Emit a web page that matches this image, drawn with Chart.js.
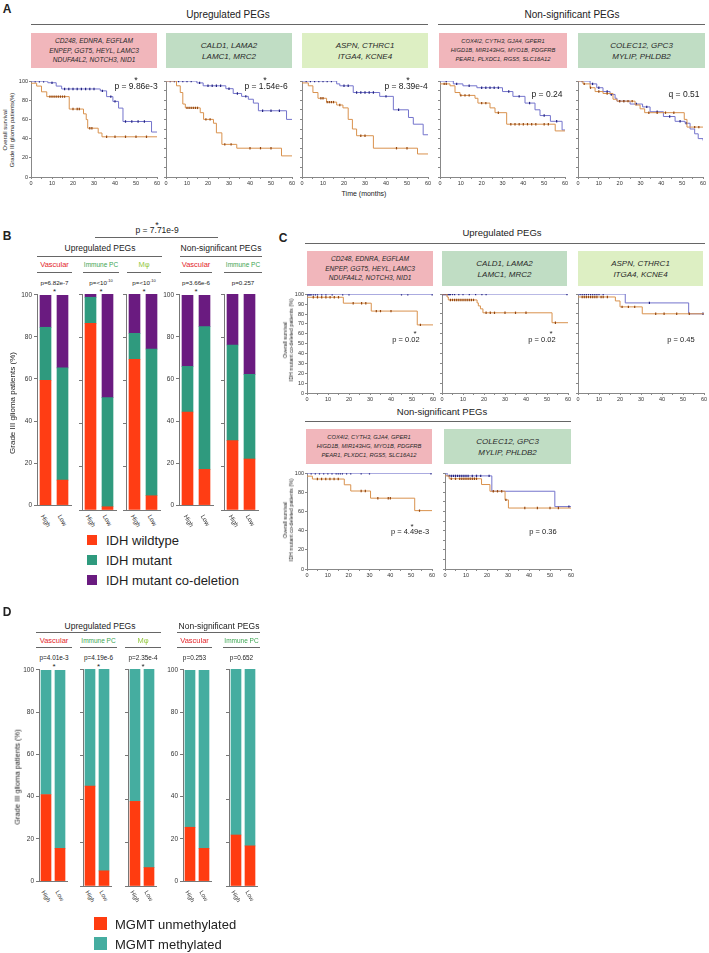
<!DOCTYPE html>
<html>
<head>
<meta charset="utf-8">
<script src="https://cdn.jsdelivr.net/npm/chart.js@4.4.0/dist/chart.umd.min.js"></script>
<style>
body { margin: 0; background: #fff; font-family: "Liberation Sans", Arial, sans-serif; color: #222; }
#fig { position: relative; width: 709px; height: 953px; overflow: hidden; }
.t { position: absolute; white-space: nowrap; transform: translate(-50%, -50%); line-height: 1; color: #222; }
.rot { position: absolute; white-space: nowrap; text-align: center; line-height: 1.15; color: #222; transform: translate(-50%, -50%) rotate(-90deg); }
.rl { position: absolute; white-space: nowrap; line-height: 1; transform-origin: 0 50%; transform: rotate(60deg); color: #333; }
.hl { position: absolute; height: 0; border-top: 1.3px solid #666; }
.box { position: absolute; display: flex; align-items: center; justify-content: center; text-align: center; font-style: italic; color: #2a2a2a; }
.sq { position: absolute; }
canvas { position: absolute; }
</style>
</head>
<body>
<div id="fig"></div>
<script>
// ---- Kaplan-Meier curves : [month, survival %] steps, censor marks in months ----
// blue = low score, orange = high score
// panel A, grade III glioma
var aVascLow = [[0,100],[8,98.5],[12,95],[14.6,92],[33,90],[36,84],[39,79],[41.7,72],[43.8,58],[57.4,47],[60,47]];
var aVascLowCens = [2,4,6,10,16,18,20,22,24,26,28,30,34,38,40,45,48,51,54];
var aVascHigh = [[0,98],[2.7,95],[5,89],[7.5,84],[18.2,71],[25,66],[26.3,60],[27,51],[32,46],[33.8,42],[60,42]];
var aVascHighCens = [9,10,11,12,13,14,15,16,20,22,23,28,29,36,40,45,50,55];

var aImmLow = [[0,100],[14.7,98],[17.7,95],[28.5,92],[32,87],[36,84],[39.2,81],[41.6,77],[44,69],[57.4,60],[60,60]];
var aImmLowCens = [2,4,6,8,10,12,16,20,22,24,26,30,34,38,46,50,54];
var aImmHigh = [[0,100],[5,95],[6.8,88],[8,76],[9.2,72],[16.3,67],[17.9,60],[22.6,56],[24,46],[26.6,34],[33.7,30],[55,22],[60,22]];
var aImmHighCens = [10,11,12,13,14,15,19,21,28,31,40,45,50];

var aMacLow = [[0,100],[16.5,97],[18,95],[24.4,88],[37,84],[43.5,70],[50.7,62],[53,55],[57.7,44],[60,44]];
var aMacLowCens = [2,4,6,8,10,12,14,20,22,26,28,30,32,34,40,46];
var aMacHigh = [[0,98],[3,95],[5.2,88],[7.6,82],[11.7,78],[16.5,75],[19.5,72],[22,60],[24,50],[26,43],[34,30],[55,24],[60,24]];
var aMacHighCens = [9,10,12,13,14,15,18,28,30,45,50];

var aNsVascLow = [[0,100],[6.4,97],[11,95],[17.7,93],[30,89],[35,84],[40.8,77],[45.6,70],[48,64],[53,58],[58.6,49],[60,49]];
var aNsVascLowCens = [3,8,14,20,22,24,26,28,33,38,43,50,56];
var aNsVascHigh = [[0,97],[4.8,95],[7.2,88],[9.6,85],[16.8,82],[18.2,77],[24,72],[26.4,67],[32,55],[55.3,48],[60,48]];
var aNsVascHighCens = [2,3,10,12,14,20,22,28,34,36,38,40,42,44,46,50,52];

var aNsImmLow = [[0,100],[5.8,97],[9,93],[12,89],[15.4,86],[17.8,82],[18.7,79],[25,76],[31,73],[34.6,68],[41,63],[46.6,58],[51.4,56],[53.8,50],[56,45],[57.7,40],[60,38]];
var aNsImmLowCens = [2,7,10,14,16,20,22,28,33,38,44,49,52];
var aNsImmHigh = [[0,100],[2.4,97],[5.8,93],[8.2,89],[12,87],[16.8,81],[18.7,79],[27.4,75],[29.8,71],[32,67],[51,60],[52.3,52],[60,52]];
var aNsImmHighCens = [3,6,10,14,20,22,24,26,34,38,42,46,56,58];

// panel C, IDH mutant co-deleted
var cVascLow = [[0,100],[60,100]];
var cVascLowCens = [0.5,1,1.5,2,3,4,5,7,9,12,17,20,45,48,59.6];
var cVascHigh = [[0,97],[17.3,91],[30.6,83],[52.5,69],[60,69]];
var cVascHighCens = [3,5,7,9,11,13,15,22,26,28,33,35,40,54];

var cImmLow = [[0,100],[60,100]];
var cImmLowCens = [0.5,1,1.5,2,2.5,3,3.5,4,5,6,8,10,13,16,19,21,59.5];
var cImmHigh = [[0,100],[2.4,97],[3,94],[16.7,91],[17.3,88],[18.3,85],[19.5,81],[52.4,71],[60,71]];
var cImmHighCens = [4,5,6,7,8,9,10,11,12,13,14,15,21,23,25,30,35,40,54];

var cMacLow = [[0,100],[22.5,91],[52.7,80],[60,80]];
var cMacLowCens = [1,2,3,4,5,6,7,8,9,10,12,34,59.5];
var cMacHigh = [[0,97],[17.8,93],[20,87],[30.6,80],[60,80]];
var cMacHighCens = [2,3,4,5,6,7,8,9,11,12,14,21,24,27,37,41,47,53];

var cNsVascLow = [[0,100],[60,100]];
var cNsVascLowCens = [2,4,6,8,10,12,14,15,16,17,19,21,26,30,59.5];
var cNsVascHigh = [[0,97],[2.6,94],[17.9,88],[21,81.5],[30.5,74],[51.7,61],[60,61]];
var cNsVascHighCens = [5,7,9,11,13,15,26,28,34,39,40,54];

var cNsImmLow = [[0,100],[1,97],[22.3,81],[52.3,65],[60,65]];
var cNsImmLowCens = [2,3,4,5,6,7,8,9,10,11,13,15,17,21,59];
var cNsImmHigh = [[0,97],[2,94],[17.4,88],[21.4,81],[28.6,72],[30.2,63.5],[60,63.5]];
var cNsImmHighCens = [3,5,7,8,9,10,11,12,13,14,15,23,25,27,29,38,44,50,54];

// ---- stacked bars (% of grade III patients), [High, Low] per group ----
var armLabels = ['High', 'Low'];
var idhWildtype = [[59.4,11.9],[86.4,1.5],[69.8,6.6],[44.3,17],[32.1,23.6]];
var idhMutant   = [[25.2,53.4],[12.1,50.5],[12,67.9],[21.7,67.9],[44.3,39.2]];
var idhCodel    = [[15.4,34.7],[1.5,48],[18.2,25.5],[34,15.1],[23.6,37.2]];
var mgmtUnmeth  = [[41,15.5],[46,7],[39,8.5],[25.5,15.5],[23.5,18.5]];
var mgmtMeth    = [[59,84.5],[54,93],[61,91.5],[74.5,84.5],[76.5,81.5]];

var groupNames = ['Vascular', 'Immune PC', 'M\u03c6', 'Vascular', 'Immune PC'];
var groupColors = ['#e3262b', '#3ca552', '#93c83e', '#e3262b', '#3ca552'];
var pB = ['p=6.82e-7', 'p=&lt;10<sup style="font-size:4px">-10</sup>', 'p=&lt;10<sup style="font-size:4px">-10</sup>', 'p=3.66e-6', 'p=0.257'];
var pD = ['p=4.01e-3', 'p=4.19e-6', 'p=2.35e-4', 'p=0.253', 'p=0.652'];

var fig = document.getElementById('fig');

function text(str, x, y, size, extra) {
    var d = document.createElement('div');
    d.className = 't';
    d.innerHTML = str;
    d.style.left = x + 'px';
    d.style.top = y + 'px';
    d.style.fontSize = size + 'px';
    if (extra) Object.assign(d.style, extra);
    fig.appendChild(d);
    return d;
}

function vtext(str, x, y, size) {
    var d = text(str, x, y, size);
    d.className = 'rot';
    return d;
}

function hline(x1, x2, y) {
    var d = document.createElement('div');
    d.className = 'hl';
    d.style.left = x1 + 'px';
    d.style.top = y + 'px';
    d.style.width = (x2 - x1) + 'px';
    fig.appendChild(d);
}

function box(x1, y1, x2, y2, color, str, size, lh) {
    var d = document.createElement('div');
    d.className = 'box';
    d.style.left = x1 + 'px';
    d.style.top = y1 + 'px';
    d.style.width = (x2 - x1) + 'px';
    d.style.height = (y2 - y1) + 'px';
    d.style.background = color;
    d.style.fontSize = size + 'px';
    d.style.lineHeight = lh + 'px';
    d.innerHTML = str;
    fig.appendChild(d);
}

function canvasAt(left, top, w, h) {
    var c = document.createElement('canvas');
    c.width = Math.round(w);
    c.height = Math.round(h);
    c.style.left = left + 'px';
    c.style.top = top + 'px';
    fig.appendChild(c);
    return c;
}

// put censor marks on the step curve
function kmPoints(steps, cens) {
    var pts = steps.map(function(p) { return { x: p[0], y: p[1], c: 0 }; });
    cens.forEach(function(t) {
        var lvl = steps[0][1];
        steps.forEach(function(p) { if (p[0] <= t) lvl = p[1]; });
        pts.push({ x: t, y: lvl, c: 1 });
    });
    pts.sort(function(a, b) { return a.x - b.x || a.c - b.c; });
    return pts;
}

function curve(steps, cens, line, mark) {
    return {
        data: kmPoints(steps, cens),
        stepped: true,
        borderColor: line,
        borderWidth: 1,
        fill: false,
        pointStyle: 'line',
        rotation: 90,
        pointBorderColor: mark,
        pointBorderWidth: 1.2,
        pointRadius: function(ctx) { return ctx.raw && ctx.raw.c ? 1.2 : 0; }
    };
}

var BLUE = '#7474cc', BLUE_MK = '#23237f', ORANGE = '#d9924e', ORANGE_MK = '#94460f';

function km(x0, x60, y100, y0, low, lowCens, high, highCens, showY) {
    var yw = showY ? 14 : 3, xh = 9, pt = 4, pr = 6;
    var cv = canvasAt(x0 - yw, y100 - pt, (x60 - x0) + yw + pr, (y0 - y100) + pt + xh);
    new Chart(cv, {
        type: 'line',
        data: { datasets: [curve(high, highCens, ORANGE, ORANGE_MK), curve(low, lowCens, BLUE, BLUE_MK)] },
        options: {
            responsive: false,
            animation: false,
            events: [],
            layout: { padding: { top: pt, right: pr } },
            plugins: { legend: { display: false }, tooltip: { enabled: false } },
            scales: {
                x: {
                    type: 'linear', min: 0, max: 60,
                    ticks: {
                        stepSize: 5, autoSkip: false, maxRotation: 0, padding: 1, color: '#333',
                        font: { size: 5.5 },
                        callback: function(v) { return v % 10 === 0 ? v : ''; }
                    },
                    grid: { drawOnChartArea: false, tickLength: 2, color: '#888' },
                    border: { color: '#888' },
                    afterFit: function(s) { s.height = xh; }
                },
                y: {
                    min: 0, max: 100,
                    ticks: { stepSize: 10, display: showY, padding: 1, color: '#333', font: { size: 5.5 } },
                    grid: { drawOnChartArea: false, tickLength: 2, color: '#888' },
                    border: { color: '#888' },
                    afterFit: function(s) { s.width = yw; }
                }
            }
        }
    });
}

function bars(axisX, yTop, yBot, w, barW, stacks, colors, showY, fs, labFs) {
    var yw = showY ? 22 : 4, pt = 5;
    var left = axisX - yw;
    var cv = canvasAt(left, yTop - pt, w + yw + 2, (yBot - yTop) + pt + 1);
    var ch = new Chart(cv, {
        type: 'bar',
        data: {
            labels: armLabels,
            datasets: stacks.map(function(s, i) {
                return { data: s, backgroundColor: colors[i], barThickness: barW, borderWidth: 0 };
            })
        },
        options: {
            responsive: false,
            animation: false,
            events: [],
            layout: { padding: { top: pt, right: 2 } },
            plugins: { legend: { display: false }, tooltip: { enabled: false } },
            scales: {
                x: {
                    stacked: true,
                    ticks: { display: false },
                    grid: { display: false },
                    border: { color: '#777' },
                    afterFit: function(s) { s.height = 1; }
                },
                y: {
                    stacked: true, min: 0, max: 100,
                    ticks: { stepSize: 20, display: showY, color: '#333', font: { size: fs }, padding: 2 },
                    grid: { drawOnChartArea: false, tickLength: 3, color: '#777' },
                    border: { color: '#777' },
                    afterFit: function(s) { s.width = yw; }
                }
            }
        }
    });
    armLabels.forEach(function(lab, i) {
        var px = left + ch.scales.x.getPixelForValue(i);
        var d = document.createElement('div');
        d.className = 'rl';
        d.textContent = lab;
        d.style.left = (px - 3) + 'px';
        d.style.top = (yBot + 2) + 'px';
        d.style.fontSize = labFs + 'px';
        fig.appendChild(d);
    });
}

var PINK = '#f1b6bb', GREEN = '#c0ddc4', LIME = '#ddefc3';
var geneVasc = 'CD248, EDNRA, EGFLAM<br>ENPEP, GGT5, HEYL, LAMC3<br>NDUFA4L2, NOTCH3, NID1';
var geneImm = 'CALD1, LAMA2<br>LAMC1, MRC2';
var geneMac = 'ASPN, CTHRC1<br>ITGA4, KCNE4';
var geneNsVasc = 'COX4I2, CYTH3, GJA4, GPER1<br>HIGD1B, MIR143HG, MYO1B, PDGFRB<br>PEAR1, PLXDC1, RGS5, SLC16A12';
var geneNsImm = 'COLEC12, GPC3<br>MYLIP, PHLDB2';
var bold = { fontWeight: 'bold' };

// ================= A =================
text('A', 7, 9, 12, bold);
text('Upregulated PEGs', 228, 15, 10);
hline(31, 428, 24);
text('Non-significant PEGs', 572, 15, 10);
hline(438, 705, 24);
box(31, 33, 157, 68, PINK, geneVasc, 6.6, 9.5);
box(166, 33, 292, 68, GREEN, geneImm, 8, 11);
box(302, 33, 428, 68, LIME, geneMac, 8, 11);
box(439, 33, 567, 68, PINK, geneNsVasc, 5.8, 9);
box(578, 33, 705, 68, GREEN, geneNsImm, 8, 11);

km(31, 157, 81, 177, aVascLow, aVascLowCens, aVascHigh, aVascHighCens, true);
km(166, 292, 81, 177, aImmLow, aImmLowCens, aImmHigh, aImmHighCens, false);
km(302, 428, 81, 177, aMacLow, aMacLowCens, aMacHigh, aMacHighCens, false);
km(440, 565, 81, 177, aNsVascLow, aNsVascLowCens, aNsVascHigh, aNsVascHighCens, false);
km(578, 703, 81, 177, aNsImmLow, aNsImmLowCens, aNsImmHigh, aNsImmHighCens, false);

text('*', 136, 80, 9); text('p = 9.86e-3', 136, 86, 8.5);
text('*', 265, 80, 9); text('p = 1.54e-6', 266, 86, 8.5);
text('*', 408, 80, 9); text('p = 8.39e-4', 406, 86, 8.5);
text('p = 0.24', 547, 94, 8.5);
text('q = 0.51', 684, 94, 8.5);
vtext('Overall survival<br>Grade III glioma patients(%)', 9, 130, 6);
text('Time (months)', 364, 193, 7);

// ================= B =================
text('B', 7, 236, 12, bold);
text('*', 157, 225, 9);
text('p = 7.71e-9', 157, 230, 8.5);
hline(95, 218, 237);
text('Upregulated PEGs', 100, 248, 8.5); hline(37, 162, 256);
text('Non-significant PEGs', 221, 248, 8.5); hline(180, 262, 256);

var bAxis = [36.7, 81.7, 126, 179, 224];
var bSub = [[37, 72], [83, 119], [127, 161], [180, 212], [224, 262]];
var bStar = [true, true, true, true, false];
var idhColors = ['#ff3d14', '#2f9a7e', '#6a1b80'];
bAxis.forEach(function(ax, g) {
    var cx = (bSub[g][0] + bSub[g][1]) / 2;
    text(groupNames[g], cx, 265, g === 1 || g === 4 ? 6.5 : 7.5, { color: groupColors[g] });
    hline(bSub[g][0], bSub[g][1], 272);
    text(pB[g], cx, 283, 6.2);
    if (bStar[g]) text('*', cx, 292, 8);
    bars(ax, 294, 510, 34, 11, [idhWildtype[g], idhMutant[g], idhCodel[g]], idhColors, g === 0 || g === 3, 6.5, 6.5);
});
vtext('Grade III glioma patients (%)', 13, 403, 8);

var idhLegend = ['IDH wildtype', 'IDH mutant', 'IDH mutant co-deletion'];
idhLegend.forEach(function(lab, i) {
    var s = document.createElement('div');
    s.className = 'sq';
    Object.assign(s.style, { left: '87px', top: (535 + i * 20) + 'px', width: '10px', height: '10px', background: idhColors[i] });
    fig.appendChild(s);
    text(lab, 106, 540 + i * 20, 13, { transform: 'translate(0,-50%)' });
});

// ================= C =================
text('C', 283, 238, 12, bold);
text('Upregulated PEGs', 502, 233, 9.5);
hline(305, 705, 243);
box(307, 251, 433, 286, PINK, geneVasc, 6.6, 9.5);
box(442, 251, 567, 286, GREEN, geneImm, 8, 11);
box(578, 251, 703, 286, LIME, geneMac, 8, 11);

km(307, 433, 294.3, 393.3, cVascLow, cVascLowCens, cVascHigh, cVascHighCens, true);
km(441.7, 567.7, 294.3, 393.3, cImmLow, cImmLowCens, cImmHigh, cImmHighCens, false);
km(577.7, 703.3, 294.3, 393.3, cMacLow, cMacLowCens, cMacHigh, cMacHighCens, false);
text('*', 415, 334, 8); text('p = 0.02', 406, 340, 7.5);
text('*', 551, 334, 8); text('p = 0.02', 542, 340, 7.5);
text('p = 0.45', 681, 340, 7.5);
vtext('Overall survival<br>IDH mutant co-deleted patients (%)', 288, 340, 5.3);

text('Non-significant PEGs', 442, 412, 9.5);
hline(305, 571, 421);
box(306, 429, 432, 464, PINK, geneNsVasc, 5.8, 9);
box(444, 429, 571, 464, GREEN, geneNsImm, 8, 11);

km(307.3, 432.7, 472.7, 569, cNsVascLow, cNsVascLowCens, cNsVascHigh, cNsVascHighCens, true);
km(445, 571, 472.7, 569, cNsImmLow, cNsImmLowCens, cNsImmHigh, cNsImmHighCens, false);
text('*', 412, 527, 8); text('p = 4.49e-3', 410, 532, 7.5);
text('p = 0.36', 543, 532, 7.5);
vtext('Overall survival<br>IDH mutant co-deleted patients (%)', 288, 520, 5.3);

// ================= D =================
text('D', 7, 612, 12, bold);
text('Upregulated PEGs', 100, 626, 8.5); hline(36, 161, 632);
text('Non-significant PEGs', 219, 626, 8.5); hline(177, 260, 632);

var dAxis = [39.3, 83.3, 128.3, 183.3, 229.3];
var dSub = [[36, 72], [80, 117], [125, 161], [177, 212], [223, 260]];
var dStar = [true, true, true, false, false];
var mgmtColors = ['#ff3c10', '#45ada0'];
dAxis.forEach(function(ax, g) {
    var cx = (dSub[g][0] + dSub[g][1]) / 2;
    text(groupNames[g], cx, 641, g === 1 || g === 4 ? 6.5 : 7.5, { color: groupColors[g] });
    hline(dSub[g][0], dSub[g][1], 647);
    text(pD[g], cx, 658, 6.4);
    if (dStar[g]) text('*', cx, 667, 8);
    bars(ax, 669.3, 886, 28, 10, [mgmtUnmeth[g], mgmtMeth[g]], mgmtColors, g === 0 || g === 3, 6.5, 6);
});
vtext('Grade III glioma patients (%)', 18, 777, 7.5);

var mgmtLegend = ['MGMT unmethylated', 'MGMT methylated'];
mgmtLegend.forEach(function(lab, i) {
    var s = document.createElement('div');
    s.className = 'sq';
    Object.assign(s.style, { left: '94px', top: (917 + i * 20) + 'px', width: '13px', height: '13px', background: mgmtColors[i] });
    fig.appendChild(s);
    text(lab, 115, 923.5 + i * 20, 13, { transform: 'translate(0,-50%)' });
});
</script>
</body>
</html>
